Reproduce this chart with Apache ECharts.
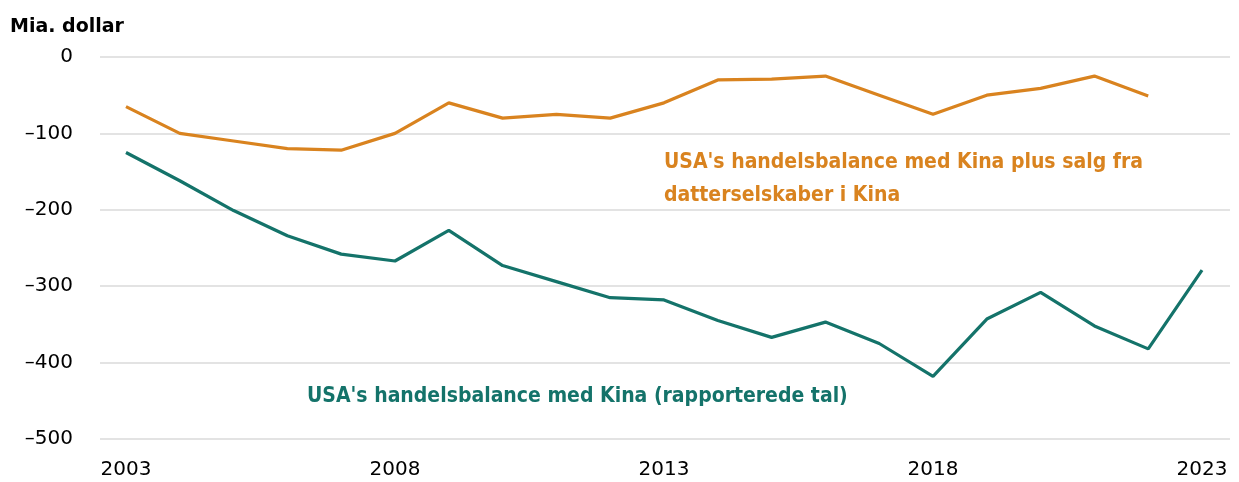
<!DOCTYPE html>
<html>
<head>
<meta charset="utf-8">
<script src="https://cdn.jsdelivr.net/npm/echarts@6/dist/echarts.min.js"></script>
<style>
    html, body { margin: 0; padding: 0; background: #fff; }
    #chart { width: 1239px; height: 482px; }
</style>
</head>
<body>
<div id="chart"></div>
<script>
// årstal og værdier (mia. dollar)
var years = [2003, 2004, 2005, 2006, 2007, 2008, 2009, 2010, 2011, 2012, 2013,
    2014, 2015, 2016, 2017, 2018, 2019, 2020, 2021, 2022, 2023];
var reported = [-125, -162, -201, -234, -258, -267, -227, -273, -294, -315, -318,
    -345, -367, -347, -375, -418, -343, -308, -352, -382, -279];
var withAffiliates = [-65, -100, -110, -120, -122, -100, -60, -80, -75, -80, -60,
    -30, -29, -25, -50, -75, -50, -41, -25, -51];
var xTicks = [2003, 2008, 2013, 2018, 2023];
var yTicks = [0, -100, -200, -300, -400, -500];

var ORANGE = '#D9831F';
var TEAL = '#14736A';
var FONT = 'DejaVu Sans';

function pairs(vals) {
    return vals.map(function (v, i) { return [years[i], v]; });
}

var myChart = echarts.init(document.getElementById('chart'), null, { renderer: 'canvas' });

myChart.setOption({
    animation: false,
    title: {
        text: 'Mia. dollar',
        left: 10,
        top: 18,
        padding: 0,
        textStyle: { fontFamily: FONT, fontSize: 19, fontWeight: 'bold', color: '#000' }
    },
    grid: {
        left: 100,
        right: 9,
        top: 57,
        bottom: 43
    },
    xAxis: {
        type: 'value',
        min: 2002.517,
        max: 2023.52,
        axisLine: { show: false },
        axisTick: { show: false },
        splitLine: { show: false },
        axisLabel: {
            customValues: xTicks,
            formatter: function (v) { return String(v); },
            margin: 21,
            fontFamily: FONT,
            fontSize: 20,
            color: '#000'
        }
    },
    yAxis: {
        type: 'value',
        min: yTicks[yTicks.length - 1],
        max: yTicks[0],
        interval: 100,
        axisLine: { show: false },
        axisTick: { show: false },
        splitLine: { lineStyle: { color: '#dadada', width: 1.5 } },
        axisLabel: {
            margin: 27,
            fontFamily: FONT,
            fontSize: 20,
            color: '#000',
            formatter: function (v) { return String(v).replace('-', '\u2013'); }
        }
    },
    series: [
        {
            name: "USA's handelsbalance med Kina plus salg fra datterselskaber i Kina",
            type: 'line',
            symbol: 'none',
            lineStyle: { color: ORANGE, width: 3.2 },
            data: pairs(withAffiliates)
        },
        {
            name: "USA's handelsbalance med Kina (rapporterede tal)",
            type: 'line',
            symbol: 'none',
            lineStyle: { color: TEAL, width: 3.2 },
            data: pairs(reported)
        }
    ],
    graphic: [
        { // etiket til orange linje
            type: 'text',
            left: 664,
            top: 146,
            style: {
                text: "USA's handelsbalance med Kina plus salg fra\ndatterselskaber i Kina",
                fill: ORANGE,
                font: 'bold 21px "DejaVu Sans Condensed"',
                lineHeight: 33
            }
        },
        { // etiket til grøn linje
            type: 'text',
            left: 307,
            top: 380,
            style: {
                text: "USA's handelsbalance med Kina (rapporterede tal)",
                fill: TEAL,
                font: 'bold 21px "DejaVu Sans Condensed"',
                lineHeight: 33
            }
        }
    ]
});
</script>
</body>
</html>
